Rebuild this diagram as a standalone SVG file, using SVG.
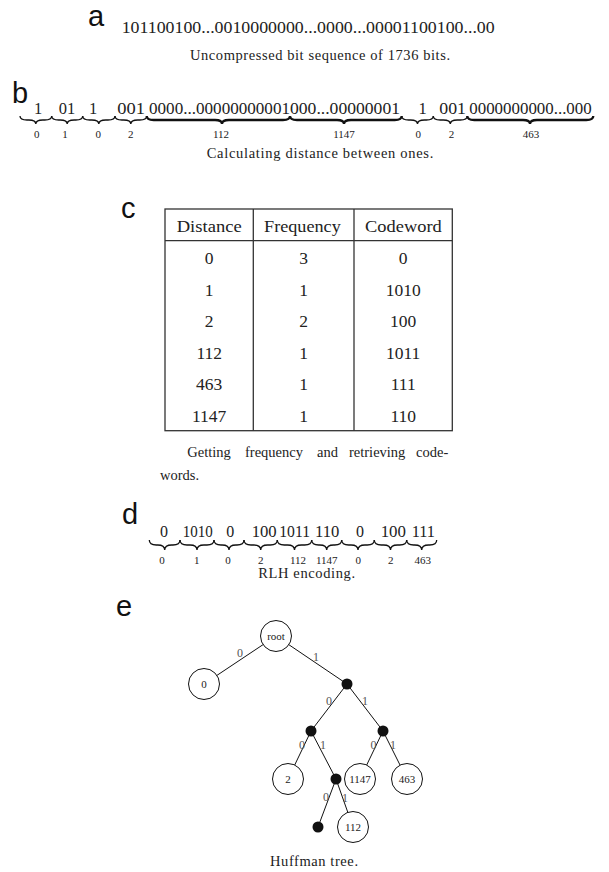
<svg xmlns="http://www.w3.org/2000/svg" width="609" height="872" viewBox="0 0 609 872">
<style>
.lbl{font-family:"Liberation Sans",Arial,sans-serif;font-size:29px;fill:#111}
.seq{font-family:"Liberation Serif","Times New Roman",serif;fill:#222}
.cap{font-family:"Liberation Serif","Times New Roman",serif;font-size:14.5px;fill:#222}
.sm{font-family:"Liberation Serif","Times New Roman",serif;font-size:11px;fill:#222;text-anchor:middle}
.tb{font-family:"Liberation Serif","Times New Roman",serif;font-size:17.5px;fill:#222;text-anchor:middle}
.br{fill:none;stroke:#111;stroke-width:1.3}
.brk{fill:none;stroke:#111;stroke-width:2.3}
.grid{stroke:#333;stroke-width:1.3;fill:none}
.edge{stroke:#111;stroke-width:1}
.circ{fill:#fff;stroke:#111;stroke-width:1}
.dot{fill:#111}
.nt{font-family:"Liberation Serif","Times New Roman",serif;font-size:11px;fill:#222;text-anchor:middle}
.el{font-family:"Liberation Serif","Times New Roman",serif;font-size:12px;fill:#555;text-anchor:middle}
</style>

<g id="panel-a">
<text class="lbl" x="88" y="26">a</text>
<text class="seq" x="121.7" y="33" font-size="17" textLength="373" lengthAdjust="spacingAndGlyphs">101100100...0010000000...0000...00001100100...00</text>
<text class="cap" x="190" y="60" textLength="260" lengthAdjust="spacing">Uncompressed bit sequence of 1736 bits.</text>
</g>

<g id="panel-b">
<text class="lbl" x="12" y="103">b</text>
<g class="seq" font-size="16.5">
<text x="38" y="113.5" text-anchor="middle">1</text>
<text x="67" y="113.5" text-anchor="middle">01</text>
<text x="93" y="113.5" text-anchor="middle">1</text>
<text x="117.3" y="113.5" textLength="27.7" lengthAdjust="spacingAndGlyphs">001</text>
<text x="149" y="113.5" textLength="141" lengthAdjust="spacingAndGlyphs">0000...00000000001</text>
<text x="290" y="113.5" textLength="110" lengthAdjust="spacingAndGlyphs">000...00000001</text>
<text x="422.7" y="113.5" text-anchor="middle">1</text>
<text x="439.3" y="113.5" textLength="26.7" lengthAdjust="spacingAndGlyphs">001</text>
<text x="469.3" y="113.5" textLength="122.4" lengthAdjust="spacingAndGlyphs">0000000000...000</text>
</g>
<path class="br" d="M20,116 Q20,120 27,120 L28.8,120 Q35.8,120 35.8,124 Q35.8,120 42.8,120 L44.7,120 Q51.7,120 51.7,116"/>
<path class="br" d="M51.7,116 Q51.7,120 58.7,120 L60.2,120 Q67.2,120 67.2,124 Q67.2,120 74.2,120 L75.7,120 Q82.7,120 82.7,116"/>
<path class="br" d="M82.7,116 Q82.7,120 89.7,120 L91.8,120 Q98.8,120 98.8,124 Q98.8,120 105.8,120 L108,120 Q115,120 115,116"/>
<path class="br" d="M115,116 Q115,120 122,120 L123.8,120 Q130.8,120 130.8,124 Q130.8,120 137.8,120 L139.7,120 Q146.7,120 146.7,116"/>
<path class="brk" d="M146.7,116 Q146.7,120 153.7,120 L215,120 Q222,120 222,124 Q222,120 229,120 L283,120 Q290,120 290,116"/>
<path class="brk" d="M290,116 Q290,120 297,120 L337,120 Q344,120 344,124 Q344,120 351,120 L394.7,120 Q401.7,120 401.7,116"/>
<path class="br" d="M401.7,116 Q401.7,120 408.7,120 L410.5,120 Q417.5,120 417.5,124 Q417.5,120 424.5,120 L426.3,120 Q433.3,120 433.3,116"/>
<path class="br" d="M433.3,116 Q433.3,120 440.3,120 L443.3,120 Q450.3,120 450.3,124 Q450.3,120 457.3,120 L460.3,120 Q467.3,120 467.3,116"/>
<path class="brk" d="M467.3,116 Q467.3,120 474.3,120 L523,120 Q530,120 530,124 Q530,120 537,120 L586.3,120 Q593.3,120 593.3,116"/>
<text class="sm" x="36.7" y="137.5">0</text>
<text class="sm" x="65" y="137.5">1</text>
<text class="sm" x="98.3" y="137.5">0</text>
<text class="sm" x="130.7" y="137.5">2</text>
<text class="sm" x="221" y="137.5">112</text>
<text class="sm" x="344" y="137.5">1147</text>
<text class="sm" x="418.3" y="137.5">0</text>
<text class="sm" x="451.5" y="137.5">2</text>
<text class="sm" x="531" y="137.5">463</text>
<text class="cap" x="206.7" y="157.5" textLength="226.6" lengthAdjust="spacing">Calculating distance between ones.</text>
</g>

<g id="panel-c">
<text class="lbl" x="121" y="218">c</text>
<rect class="grid" x="165" y="209" width="287.3" height="221.7"/>
<line class="grid" x1="253.3" y1="209" x2="253.3" y2="430.7"/>
<line class="grid" x1="354" y1="209" x2="354" y2="430.7"/>
<line class="grid" x1="165" y1="240.7" x2="452.3" y2="240.7"/>
<text class="tb" x="209.2" y="232" textLength="65" lengthAdjust="spacingAndGlyphs">Distance</text>
<text class="tb" x="302.4" y="232" textLength="76.7" lengthAdjust="spacingAndGlyphs">Frequency</text>
<text class="tb" x="403.4" y="232" textLength="76.7" lengthAdjust="spacingAndGlyphs">Codeword</text>
<text class="tb" x="209.2" y="264">0</text><text class="tb" x="303.6" y="264">3</text><text class="tb" x="403.2" y="264">0</text>
<text class="tb" x="209.2" y="295.5">1</text><text class="tb" x="303.6" y="295.5">1</text><text class="tb" x="403.2" y="295.5">1010</text>
<text class="tb" x="209.2" y="327">2</text><text class="tb" x="303.6" y="327">2</text><text class="tb" x="403.2" y="327">100</text>
<text class="tb" x="209.2" y="358.7">112</text><text class="tb" x="303.6" y="358.7">1</text><text class="tb" x="403.2" y="358.7">1011</text>
<text class="tb" x="209.2" y="390">463</text><text class="tb" x="303.6" y="390">1</text><text class="tb" x="403.2" y="390">111</text>
<text class="tb" x="209.2" y="421.5">1147</text><text class="tb" x="303.6" y="421.5">1</text><text class="tb" x="403.2" y="421.5">110</text>
<g class="cap">
<text x="187.3" y="457">Getting</text>
<text x="245" y="457">frequency</text>
<text x="317" y="457">and</text>
<text x="349" y="457">retrieving</text>
<text x="448.3" y="457" text-anchor="end">code-</text>
<text x="160" y="480">words.</text>
</g>
</g>

<g id="panel-d">
<text class="lbl" x="122" y="524">d</text>
<g class="seq" font-size="16">
<text x="164" y="537" text-anchor="middle">0</text>
<text x="182.7" y="537" textLength="30" lengthAdjust="spacingAndGlyphs">1010</text>
<text x="230.3" y="537" text-anchor="middle">0</text>
<text x="251.7" y="537" textLength="25" lengthAdjust="spacingAndGlyphs">100</text>
<text x="279.3" y="537" textLength="30.7" lengthAdjust="spacingAndGlyphs">1011</text>
<text x="315" y="537" textLength="24.3" lengthAdjust="spacingAndGlyphs">110</text>
<text x="360" y="537" text-anchor="middle">0</text>
<text x="380.7" y="537" textLength="25.3" lengthAdjust="spacingAndGlyphs">100</text>
<text x="411.7" y="537" textLength="23.3" lengthAdjust="spacingAndGlyphs">111</text>
</g>
<path class="br" d="M149.3,540 Q149.3,545 156.3,545 L157.7,545 Q164.7,545 164.7,550 Q164.7,545 171.7,545 L173,545 Q180,545 180,540"/>
<path class="br" d="M180,540 Q180,545 187,545 L190,545 Q197,545 197,550 Q197,545 204,545 L207,545 Q214,545 214,540"/>
<path class="br" d="M214,540 Q214,545 221,545 L222,545 Q229,545 229,550 Q229,545 236,545 L237,545 Q244,545 244,540"/>
<path class="br" d="M244,540 Q244,545 251,545 L253.7,545 Q260.7,545 260.7,550 Q260.7,545 267.7,545 L270.3,545 Q277.3,545 277.3,540"/>
<path class="br" d="M277.3,540 Q277.3,545 284.3,545 L287.5,545 Q294.5,545 294.5,550 Q294.5,545 301.5,545 L304.7,545 Q311.7,545 311.7,540"/>
<path class="br" d="M311.7,540 Q311.7,545 318.7,545 L319.7,545 Q326.7,545 326.7,550 Q326.7,545 333.7,545 L334.7,545 Q341.7,545 341.7,540"/>
<path class="br" d="M341.7,540 Q341.7,545 348.7,545 L351,545 Q358,545 358,550 Q358,545 365,545 L367.3,545 Q374.3,545 374.3,540"/>
<path class="br" d="M374.3,540 Q374.3,545 381.3,545 L383.5,545 Q390.5,545 390.5,550 Q390.5,545 397.5,545 L399.7,545 Q406.7,545 406.7,540"/>
<path class="br" d="M406.7,540 Q406.7,545 413.7,545 L414.7,545 Q421.7,545 421.7,550 Q421.7,545 428.7,545 L429.7,545 Q436.7,545 436.7,540"/>
<text class="sm" x="162" y="564">0</text>
<text class="sm" x="196.7" y="564">1</text>
<text class="sm" x="228" y="564">0</text>
<text class="sm" x="260.7" y="564">2</text>
<text class="sm" x="298" y="564">112</text>
<text class="sm" x="326.7" y="564">1147</text>
<text class="sm" x="358.3" y="564">0</text>
<text class="sm" x="390.7" y="564">2</text>
<text class="sm" x="422.7" y="564">463</text>
<text class="cap" x="258.3" y="578" textLength="96.7" lengthAdjust="spacing">RLH encoding.</text>
</g>

<g id="panel-e">
<text class="lbl" x="116" y="616">e</text>
<g id="connectors">
<line class="edge" x1="276" y1="636" x2="204" y2="684"/>
<line class="edge" x1="276" y1="636" x2="347" y2="684"/>
<line class="edge" x1="347" y1="684" x2="311" y2="731"/>
<line class="edge" x1="347" y1="684" x2="383" y2="731"/>
<line class="edge" x1="311" y1="731" x2="288" y2="779"/>
<line class="edge" x1="311" y1="731" x2="336" y2="779"/>
<line class="edge" x1="383" y1="731" x2="360" y2="779"/>
<line class="edge" x1="383" y1="731" x2="407" y2="779"/>
<line class="edge" x1="336" y1="779" x2="318" y2="827"/>
<line class="edge" x1="336" y1="779" x2="353" y2="827"/>
<text class="el" x="240" y="657">0</text>
<text class="el" x="316" y="661">1</text>
<text class="el" x="329" y="705">0</text>
<text class="el" x="365" y="705">1</text>
<text class="el" x="302" y="749">0</text>
<text class="el" x="323" y="749">1</text>
<text class="el" x="373.5" y="749">0</text>
<text class="el" x="393" y="749">1</text>
<text class="el" x="326" y="801">0</text>
<text class="el" x="345" y="802">1</text>
</g>
<g id="node-root"><circle class="circ" cx="276" cy="636" r="15.5"/><text class="nt" x="276" y="639.5">root</text></g>
<g id="node-0"><circle class="circ" cx="204" cy="684" r="15.5"/><text class="nt" x="204" y="688">0</text></g>
<g id="node-i1"><circle class="dot" cx="347" cy="684" r="5.5"/></g>
<g id="node-i2"><circle class="dot" cx="311" cy="731" r="5.5"/></g>
<g id="node-i3"><circle class="dot" cx="383" cy="731" r="5.5"/></g>
<g id="node-2"><circle class="circ" cx="288" cy="779" r="15.5"/><text class="nt" x="288" y="783">2</text></g>
<g id="node-i4"><circle class="dot" cx="336" cy="779" r="5.5"/></g>
<g id="node-1147"><circle class="circ" cx="360" cy="779" r="15.5"/><text class="nt" x="360" y="783">1147</text></g>
<g id="node-463"><circle class="circ" cx="407" cy="779" r="15.5"/><text class="nt" x="407" y="783">463</text></g>
<g id="node-i5"><circle class="dot" cx="318" cy="827" r="5.5"/></g>
<g id="node-112"><circle class="circ" cx="353" cy="827" r="15.5"/><text class="nt" x="353" y="831">112</text></g>
<text class="cap" x="270" y="866" textLength="88" lengthAdjust="spacing">Huffman tree.</text>
</g>
</svg>
